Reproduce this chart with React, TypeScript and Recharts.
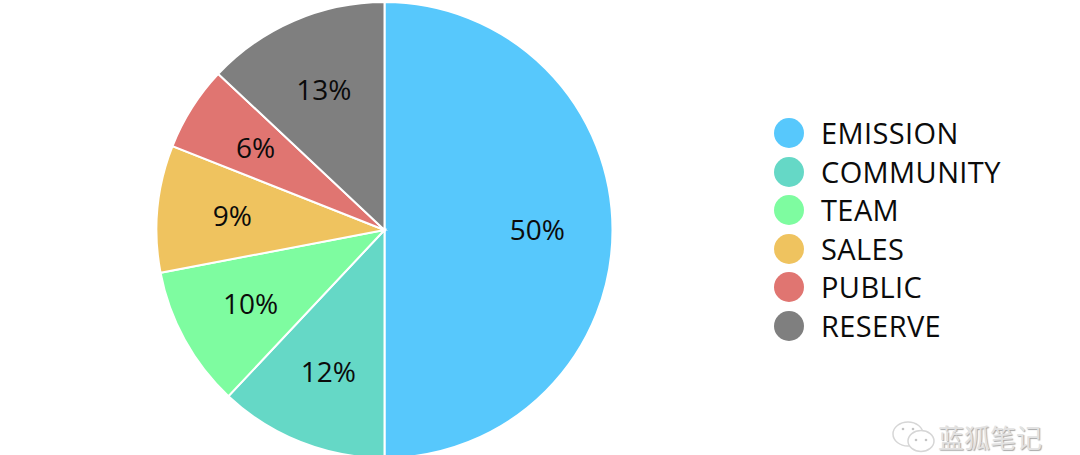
import React from 'react';
import { PieChart, Pie, Cell, Legend } from 'recharts';

const categories = ['EMISSION', 'COMMUNITY', 'TEAM', 'SALES', 'PUBLIC', 'RESERVE'];
const shares = [50, 12, 10, 9, 6, 13];
const colors = ['#57c8fc', '#65d8c6', '#7efca0', '#efc35f', '#e07571', '#7f7f7f'];

const data = categories.map((name, i) => ({ name, value: shares[i] }));

const FONT = '"Open Sans", sans-serif';
const RADIAN = Math.PI / 180;

const renderPercent = ({ cx, cy, midAngle, outerRadius, value }: any) => {
  const r = outerRadius * 0.67;
  return (
    <text
      x={cx + r * Math.cos(-midAngle * RADIAN)}
      y={cy + r * Math.sin(-midAngle * RADIAN) - 1}
      fill="#0b0b0b"
      fontFamily={FONT}
      fontSize={28}
      textAnchor="middle"
      dominantBaseline="central"
    >
      {value}%
    </text>
  );
};

const LegendList = () => (
  <div style={{ fontFamily: FONT }}>
    {categories.map((name, i) => (
      <div key={name} style={{ display: 'flex', alignItems: 'center', height: 38.5 }}>
        <span
          style={{
            width: 30,
            height: 30,
            borderRadius: '50%',
            background: colors[i],
            marginRight: 17,
          }}
        />
        <span style={{ fontSize: 29, color: '#0b0b0b', lineHeight: '38px', letterSpacing: 0.4 }}>{name}</span>
      </div>
    ))}
  </div>
);

const Watermark = () => (
  <div
    style={{
      position: 'absolute',
      left: 890,
      top: 420,
      display: 'flex',
      alignItems: 'center',
      color: '#e2e2e2',
      textShadow: '1px 1px 1px #a8a8a8',
      fontFamily: '"Noto Sans CJK SC", sans-serif',
      fontSize: 26,
      lineHeight: '30px',
    }}
  >
    <svg width={46} height={34} style={{ marginRight: 2 }}>
      <ellipse cx={18} cy={14} rx={15} ry={12} fill="#fff" stroke="#d6d6d6" strokeWidth={1.5} />
      <ellipse cx={31} cy={21} rx={13} ry={10.5} fill="#fff" stroke="#d6d6d6" strokeWidth={1.5} />
      <circle cx={13} cy={9} r={1.3} fill="#c4c4c4" />
      <circle cx={23} cy={9} r={1.3} fill="#c4c4c4" />
      <circle cx={26} cy={20} r={1.3} fill="#c4c4c4" />
      <circle cx={36} cy={20} r={1.3} fill="#c4c4c4" />
    </svg>
    <span>蓝狐笔记</span>
  </div>
);

export default function App() {
  return (
    <div style={{ position: 'absolute', left: 0, top: 0, width: 1080, height: 455, background: '#fff', overflow: 'hidden' }}>
      <PieChart width={1080} height={455} margin={{ top: 0, right: 0, bottom: 0, left: 0 }}>
        <Pie
          data={data}
          dataKey="value"
          nameKey="name"
          cx={384.5}
          cy={230}
          outerRadius={228}
          startAngle={90}
          endAngle={-270}
          stroke="#fff"
          strokeWidth={2}
          label={renderPercent}
          labelLine={false}
          isAnimationActive={false}
        >
          {data.map((d, i) => (
            <Cell key={d.name} fill={colors[i]} />
          ))}
        </Pie>
        <Legend
          layout="vertical"
          content={<LegendList />}
          wrapperStyle={{ left: 774, top: 114, width: 290 }}
        />
      </PieChart>
      <Watermark />
    </div>
  );
}
